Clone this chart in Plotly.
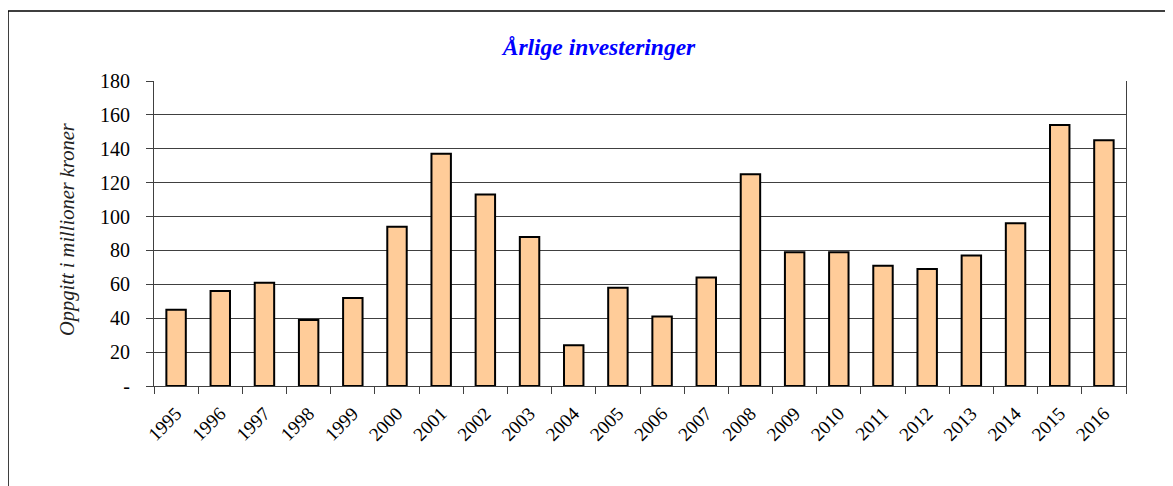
import plotly.graph_objects as go

# Data
years = ["1995", "1996", "1997", "1998", "1999", "2000", "2001", "2002",
         "2003", "2004", "2005", "2006", "2007", "2008", "2009", "2010",
         "2011", "2012", "2013", "2014", "2015", "2016"]
investments = [45, 56, 61, 39, 52, 94, 137, 113, 88, 24, 58, 41, 64, 125,
               79, 79, 71, 69, 77, 96, 154, 145]

y_tickvals = [0, 20, 40, 60, 80, 100, 120, 140, 160, 180]
y_ticktext = ["-", "20", "40", "60", "80", "100", "120", "140", "160", "180"]

title_text = "Årlige investeringer"
y_title = "Oppgitt i millioner kroner"

FONT = "Liberation Serif, Times New Roman, serif"
BAR_FILL = "#FFCC99"
GRID = "#404040"

# the page body has an 8px margin, so the figure is drawn 8px smaller
OFF = 8
W, H = 1173 - OFF, 486 - OFF
L, R, T, B = 146, 47, 73, 100
pw, ph = W - L - R, H - T - B


def px_x(x):
    # screen x (reference pixels) -> paper x
    return (x - OFF - L) / pw


def px_y(y):
    # screen y (reference pixels) -> paper y
    return (H - B - (y - OFF)) / ph


fig = go.Figure()
fig.add_trace(go.Bar(
    x=years, y=investments,
    marker=dict(color=BAR_FILL, line=dict(color="black", width=2)),
    showlegend=False,
))

fig.update_layout(
    width=W, height=H,
    margin=dict(l=L, r=R, t=T, b=B, autoexpand=False),
    plot_bgcolor="white", paper_bgcolor="white",
    bargap=0.56,
    font=dict(family=FONT, size=20, color="black"),
    title=dict(
        text=f"<b><i>{title_text}</i></b>",
        font=dict(family=FONT, size=23.5, color="#0000FF"),
        x=(599 - OFF) / W, xanchor="center",
        y=1 - (47 - OFF) / H, yanchor="middle",
    ),
    annotations=[dict(
        text=f"<i>{y_title}</i>",
        xref="paper", yref="paper",
        x=px_x(67), y=px_y(229),
        xanchor="center", yanchor="middle",
        textangle=-90, showarrow=False,
        font=dict(family=FONT, size=20.5, color="#222"),
    )],
    shapes=[dict(
        type="rect", xref="paper", yref="paper",
        x0=px_x(8), x1=px_x(1173 + 30), y0=px_y(486 + 30), y1=px_y(11),
        line=dict(color="black", width=1.5), layer="below",
    )],
)

fig.update_xaxes(
    type="category",
    tickangle=-45,
    tickson="boundaries",
    ticks="outside", ticklen=7, tickcolor=GRID, tickwidth=1,
    showline=True, linecolor=GRID, linewidth=1,
    mirror=False, showgrid=False,
    ticklabelstandoff=8,
    tickfont=dict(family=FONT, size=19, color="black"),
)
fig.update_yaxes(
    range=[0, 180],
    tickvals=y_tickvals, ticktext=y_ticktext,
    ticks="outside", ticklen=7, tickcolor=GRID, tickwidth=1,
    showline=True, linecolor=GRID, linewidth=1, mirror=True,
    showgrid=True, gridcolor=GRID, gridwidth=1,
    zeroline=False,
    ticklabelstandoff=12,
    tickfont=dict(family=FONT, size=20, color="black"),
)

fig.write_html("out.html")
